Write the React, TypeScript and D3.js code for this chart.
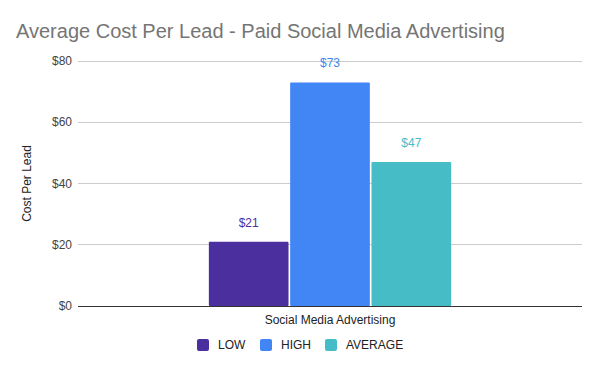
import React from "react";
import * as d3 from "d3";

const categories = ["Social Media Advertising"];
const seriesNames = ["LOW", "HIGH", "AVERAGE"];
const seriesValues = [21, 73, 47];
const seriesColors = ["#4c2f9f", "#4285f4", "#46bdc6"];
const yTicks = [0, 20, 40, 60, 80];

const W = 600;
const H = 371;
const margin = { top: 61, right: 18, bottom: 65, left: 78 };

const App = () => {
  const innerW = W - margin.left - margin.right;
  const innerH = H - margin.top - margin.bottom;

  const y = d3.scaleLinear().domain([0, 80]).range([innerH, 0]);
  // one category, the group takes up about 48% of the plot width
  const x0 = d3.scaleBand().domain(categories).range([0, innerW]).paddingInner(0).paddingOuter(0.54);
  const x1 = d3
    .scaleBand()
    .domain(seriesNames)
    .range([0, x0.bandwidth()])
    .paddingInner(0.02);

  const fmt = (v: number) => `$${v}`;
  const font = "Arial, 'Liberation Sans', sans-serif";

  // legend layout
  const legendX = [197, 260, 325];

  return (
    <svg width={W} height={H} style={{ display: "block", position: "absolute", left: 0, top: 0 }} fontFamily={font}>
      <rect width={W} height={H} fill="#fff" />
      <text x={16} y={38} fontSize={20} fill="#757575">
        Average Cost Per Lead - Paid Social Media Advertising
      </text>
      <g transform={`translate(${margin.left},${margin.top})`}>
        {yTicks.map((t) => (
          <g key={t}>
            <line
              x1={0}
              x2={innerW}
              y1={y(t)}
              y2={y(t)}
              stroke={t === 0 ? "#333" : "#ccc"}
              strokeWidth={1}
              shapeRendering="crispEdges"
            />
            <text x={-6} y={y(t)} dy="0.35em" textAnchor="end" fontSize={12} fill="#444">
              {fmt(t)}
            </text>
          </g>
        ))}
        {categories.map((c) => (
          <g key={c} transform={`translate(${x0(c)},0)`}>
            {seriesValues.map((v, i) => (
              <g key={seriesNames[i]}>
                <rect
                  x={x1(seriesNames[i])}
                  y={y(v)}
                  width={x1.bandwidth()}
                  height={innerH - y(v)}
                  fill={seriesColors[i]}
                  rx={1}
                />
                <text
                  x={(x1(seriesNames[i]) ?? 0) + x1.bandwidth() / 2}
                  y={y(v) - 15}
                  textAnchor="middle"
                  fontSize={12}
                  fill={seriesColors[i]}
                >
                  {fmt(v)}
                </text>
              </g>
            ))}
            <text x={x0.bandwidth() / 2} y={innerH + 18} textAnchor="middle" fontSize={12} fill="#222">
              {c}
            </text>
          </g>
        ))}
        <line x1={0} x2={innerW} y1={innerH} y2={innerH} stroke="#333" shapeRendering="crispEdges" />
      </g>
      <text
        transform={`translate(31,${margin.top + innerH / 2}) rotate(-90)`}
        textAnchor="middle"
        fontSize={12}
        fill="#222"
      >
        Cost Per Lead
      </text>
      {seriesNames.map((s, i) => (
        <g key={s} transform={`translate(${legendX[i]},339)`}>
          <rect width={12} height={12} rx={2} fill={seriesColors[i]} />
          <text x={21} y={6} dy="0.35em" fontSize={12} fill="#222">
            {s}
          </text>
        </g>
      ))}
    </svg>
  );
};

export default App;
